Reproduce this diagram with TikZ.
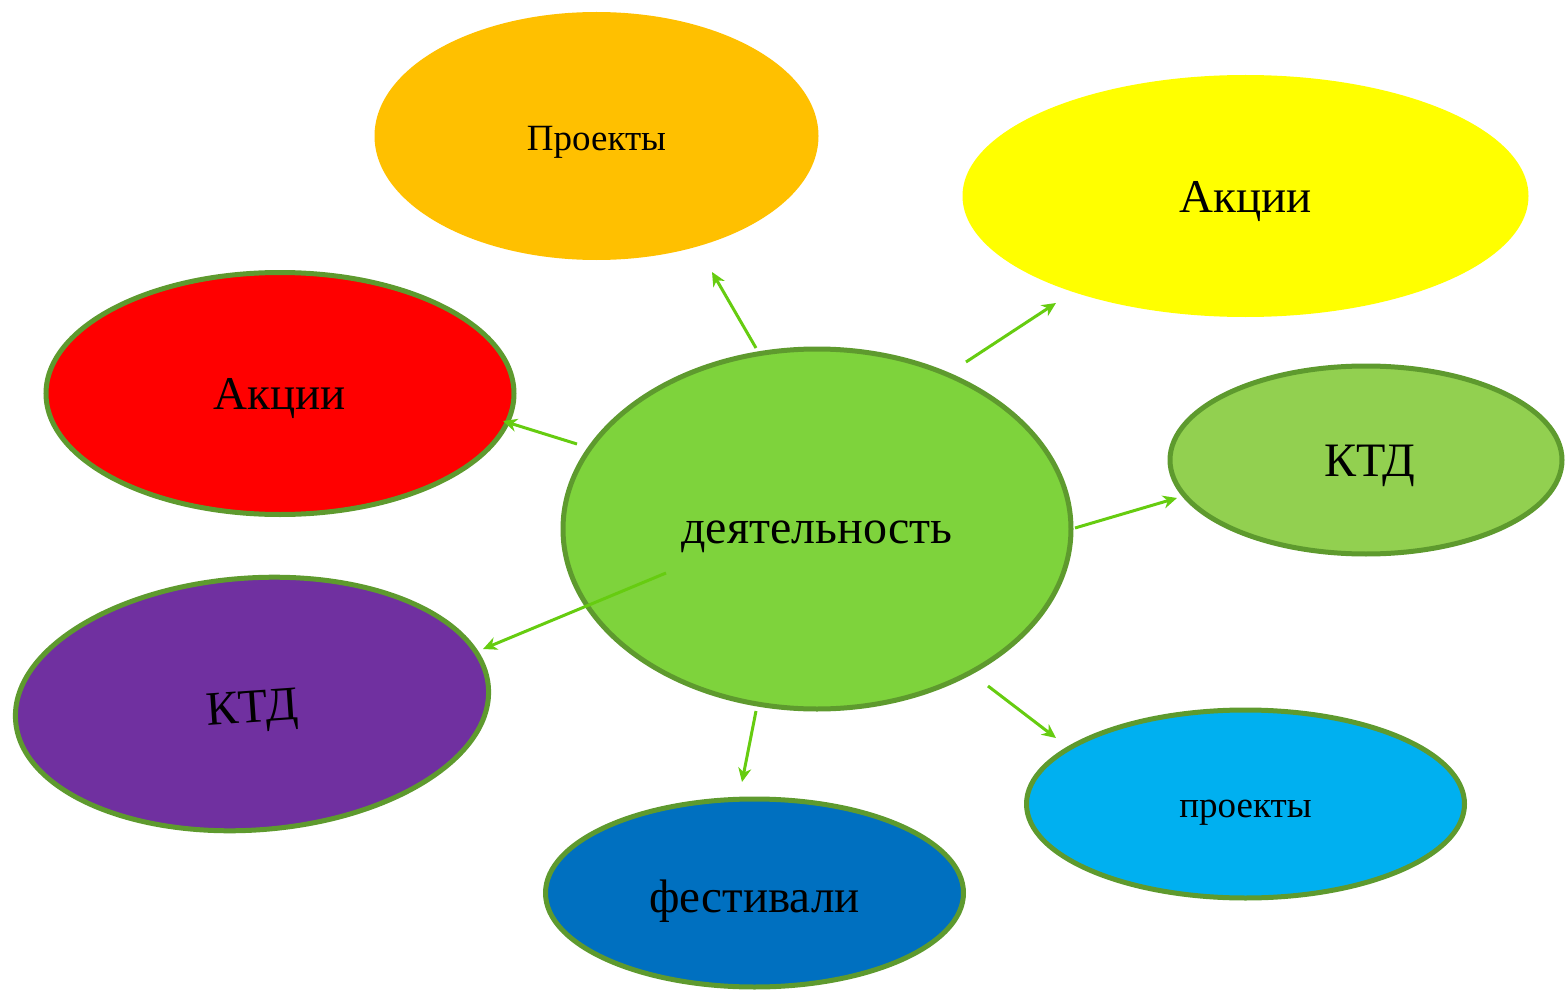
\documentclass[tikz,border=0pt]{standalone}
\usepackage{fontspec}
\setmainfont{Liberation Serif}
\usetikzlibrary{shapes.geometric,arrows.meta}
\definecolor{cOrange}{HTML}{FFC000}
\definecolor{cYellow}{HTML}{FFFF00}
\definecolor{cRed}{HTML}{FF0000}
\definecolor{cCenter}{HTML}{7ED33C}
\definecolor{cLight}{HTML}{92D050}
\definecolor{cPurple}{HTML}{7030A0}
\definecolor{cBlue}{HTML}{0070C0}
\definecolor{cCyan}{HTML}{00B0F0}
\definecolor{cBorder}{HTML}{5E9A2E}
\definecolor{cArrow}{HTML}{66CC10}
\newcommand{\lowtext}[2]{\raisebox{-#1}[\height][\depth]{#2}}
\tikzset{
  blob/.style={ellipse, inner sep=0pt, text=black},
  bordered/.style={draw=cBorder, line width=2.5pt},
  conn/.style={draw=cArrow, line width=1.5pt, -{Stealth[length=7pt,width=6.5pt,inset=2.2pt]}},
}
\begin{document}
\begin{tikzpicture}[x=0.5pt,y=-0.5pt]
\useasboundingbox (0,0) rectangle (1565,990);
% ellipses
\node[blob, fill=cOrange, minimum width=222pt, minimum height=124pt, font=\fontsize{18.5}{20}\selectfont] (proj1) at (596.5,136) {\lowtext{3pt}{Проекты}};
\node[blob, fill=cYellow, minimum width=283pt, minimum height=121pt, font=\fontsize{23.5}{26}\selectfont] (akc1) at (1245.5,196) {\lowtext{3pt}{Акции}};
\node[blob, bordered, fill=cRed, minimum width=234pt, minimum height=121pt, font=\fontsize{23.5}{26}\selectfont] (akc2) at (280,393.5) {\lowtext{2.5pt}{Акции}};
\node[blob, bordered, fill=cLight, minimum width=196pt, minimum height=94pt, font=\fontsize{24}{26}\selectfont] (ktd1) at (1366,460) {\hspace*{4pt}\lowtext{3pt}{КТД}};
\node[blob, bordered, fill=cPurple, minimum width=237pt, minimum height=126pt, rotate=4, font=\fontsize{24}{26}\selectfont] (ktd2) at (252,704) {\lowtext{4pt}{КТД}};
\node[blob, bordered, fill=cBlue, minimum width=209pt, minimum height=94pt, font=\fontsize{23.5}{26}\selectfont] (fest) at (754.5,893) {\lowtext{4pt}{фестивали}};
\node[blob, bordered, fill=cCyan, minimum width=219pt, minimum height=94pt, font=\fontsize{18.5}{20}\selectfont] (proj2) at (1245.5,804) {\lowtext{4.5pt}{проекты}};
\node[blob, bordered, fill=cCenter, minimum width=254pt, minimum height=180pt, font=\fontsize{24}{26}\selectfont] (act) at (817,529) {\lowtext{4pt}{деятельность}};
% connector end points
\coordinate (s1) at (756,348);  \coordinate (e1) at (712,272);
\coordinate (s2) at (966,362);  \coordinate (e2) at (1056,303);
\coordinate (s3) at (577,444);  \coordinate (e3) at (503,421);
\coordinate (s4) at (1075,528); \coordinate (e4) at (1177,498);
\coordinate (s5) at (666,573);  \coordinate (e5) at (483,649);
\coordinate (s6) at (756,711);  \coordinate (e6) at (742,782);
\coordinate (s7) at (988,686);  \coordinate (e7) at (1056,738);
\draw[conn] (s1) -- (e1);
\draw[conn] (s2) -- (e2);
\draw[conn] (s3) -- (e3);
\draw[conn] (s4) -- (e4);
\draw[conn] (s5) -- (e5);
\draw[conn] (s6) -- (e6);
\draw[conn] (s7) -- (e7);
\end{tikzpicture}
\end{document}
